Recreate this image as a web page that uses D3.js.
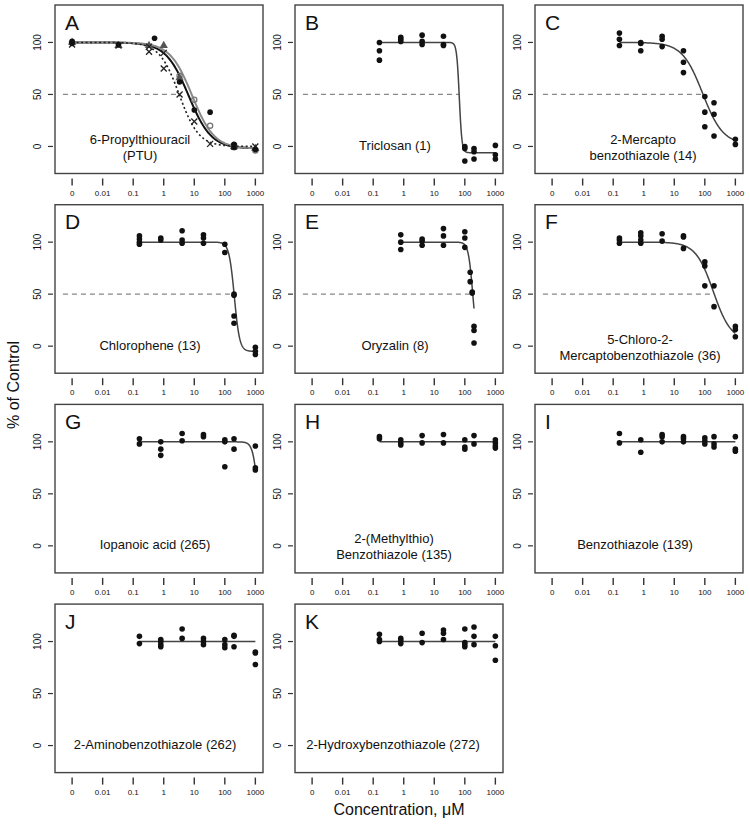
<!DOCTYPE html>
<html><head><meta charset="utf-8">
<script src="https://cdn.jsdelivr.net/npm/d3@7"></script>
<style>
body{margin:0;background:#fff}
svg{display:block}
text{font-family:"Liberation Sans",Arial,Helvetica,sans-serif;fill:#111}
</style>
</head><body>
<svg id="chart" width="750" height="829"></svg>
<script>
// ---------------- DATA ----------------
const xTickValues = [0.001, 0.01, 0.1, 1, 10, 100, 1000];
const xTickLabels = ["0", "0.01", "0.1", "1", "10", "100", "1000"];
const yTickValues = [0, 50, 100];
const panelLetters = ["A","B","C","D","E","F","G","H","I","J","K"];
const compoundNames = [
  ["6-Propylthiouracil", "(PTU)"],
  ["Triclosan (1)"],
  ["2-Mercapto", "benzothiazole (14)"],
  ["Chlorophene (13)"],
  ["Oryzalin (8)"],
  ["5-Chloro-2-", "Mercaptobenzothiazole (36)"],
  ["Iopanoic acid (265)"],
  ["2-(Methylthio)", "Benzothiazole (135)"],
  ["Benzothiazole (139)"],
  ["2-Aminobenzothiazole (262)"],
  ["2-Hydroxybenzothiazole (272)"]
];

// Panel A: PTU, several replicate runs (concentration µM, % of control)
const dataA_circle = [[0.001,101],[0.001,99],[0.033,98],[0.5,104],[3.3,62],[10,35],[33,33],[200,2],[200,-1],[1000,-3]];
const dataA_triangle = [[0.001,100],[0.033,97],[0.33,97],[1,97],[3.3,66],[200,0],[1000,-2]];
const dataA_open = [[0.001,100],[3.3,68],[10,45],[33,20],[200,1],[1000,-4]];
const dataA_cross = [[0.001,98],[0.033,97],[0.33,96],[0.33,91],[1,90],[1,75],[3.3,50],[10,24],[33,2.5],[200,0],[1000,0]];

const dataB = [[0.16,100],[0.16,92],[0.16,83],[0.8,105],[0.8,103],[0.8,101],[4,107],[4,101],[4,98],[20,106],[20,98],[20,97],[100,0],[100,-2],[100,-14],[200,-2],[200,-5],[200,-12],[1000,1],[1000,-8],[1000,-12]];
const dataC = [[0.16,109],[0.16,103],[0.16,97],[0.8,100],[0.8,99],[0.8,92],[4,106],[4,103],[4,96],[20,92],[20,81],[20,71],[100,48],[100,33],[100,19],[200,42],[200,31],[200,10],[1000,7],[1000,2]];
const dataD = [[0.16,106],[0.16,103],[0.16,100],[0.16,98],[0.8,104],[0.8,102],[4,111],[4,102],[4,99],[20,107],[20,104],[20,99],[100,98],[100,90],[200,50],[200,49],[200,29],[200,22],[1000,-1],[1000,-5],[1000,-8]];
const dataE = [[0.8,107],[0.8,100],[0.8,93],[4,103],[4,101],[4,97],[20,113],[20,106],[20,97],[100,110],[100,104],[100,95],[150,71],[150,62],[175,52],[175,51],[200,19],[200,15],[200,3]];
const dataF = [[0.16,104],[0.16,102],[0.16,99],[0.8,109],[0.8,106],[0.8,102],[0.8,99],[4,108],[4,101],[20,106],[20,105],[20,94],[100,81],[100,77],[100,58],[200,58],[200,38],[1000,19],[1000,16],[1000,9]];
const dataG = [[0.16,103],[0.16,98],[0.8,100],[0.8,93],[0.8,87],[4,108],[4,101],[20,107],[20,105],[100,102],[100,100],[100,76],[200,103],[200,93],[1000,96],[1000,75],[1000,73]];
const dataH = [[0.16,105],[0.16,103],[0.8,102],[0.8,99],[0.8,97],[4,106],[4,99],[20,107],[20,99],[100,102],[100,95],[100,93],[200,106],[200,98],[1000,102],[1000,99],[1000,96],[1000,94]];
const dataI = [[0.16,108],[0.16,99],[0.8,102],[0.8,90],[4,107],[4,105],[4,100],[20,105],[20,103],[20,100],[100,104],[100,101],[100,98],[200,105],[200,98],[200,95],[1000,105],[1000,93],[1000,91]];
const dataJ = [[0.16,105],[0.16,98],[0.8,102],[0.8,100],[0.8,97],[0.8,95],[4,112],[4,103],[20,103],[20,100],[20,97],[100,102],[100,97],[100,94],[200,106],[200,105],[200,95],[1000,90],[1000,89],[1000,78]];
const dataK = [[0.16,107],[0.16,102],[0.16,100],[0.8,103],[0.8,101],[0.8,98],[4,108],[4,99],[20,111],[20,108],[20,102],[100,112],[100,99],[100,97],[100,95],[200,114],[200,105],[200,97],[1000,105],[1000,96],[1000,82]];

// Fitted Hill curves: [top, bottom, IC50 (µM), Hill slope, from (µM), to (µM)]
const fitA = [[100,-2,6.5,1.17,0.001,1000],[100,-2,8.5,1.2,0.001,1000],[100,0,3.2,1.35,0.001,1000]];
const fitB = [[100,-6,66,10,0.16,1000]];
const fitC = [[100,2,85,1.3,0.16,1000]];
const fitD = [[100,-5,205,5,0.16,1000]];
const fitE = [[100,0,182,6,0.8,200]];
const fitF = [[100,5,190,1.5,0.16,1000]];
const fitG = [[100,0,1227,5.13,0.16,1000]];
const fitH = [[100,100,1,1,0.16,1000]];
const fitI = [[100,100,1,1,0.16,1000]];
const fitJ = [[100,100,1,1,0.16,1000]];
const fitK = [[100,100,1,1,0.16,1000]];
// which fit defines the 50% reference line (null = none)
const halfLineFit = [2, 0, 0, 0, 0, 0, null, null, null, null, null];

// ---------------- LAYOUT ----------------
const W = 750, H = 829;
const colLeft = c => 55 + 240 * c;
const rowTop = r => 5 + 199.7 * r;
const pw = 208, ph = 168.5;
const labelCenter = [85, 100, 108, 95, 100, 105, 100, 99, 100, 100, 98];
const font = '"Liberation Sans",Arial,Helvetica,sans-serif';

const svg = d3.select("#chart");
svg.append("rect").attr("width", W).attr("height", H).attr("fill", "#fff");

const x = d3.scaleLog().domain([Math.pow(10,-3.56), Math.pow(10,3.25)]).range([0, pw]);
const y = d3.scaleLinear().domain([-26, 136]).range([ph, 0]);

const hill = (p, c) => p[1] + (p[0] - p[1]) / (1 + Math.pow(c / p[2], p[3]));
const curvePts = p => {
  const a = Math.log10(p[4]), b = Math.log10(p[5]);
  return d3.range(0, 301).map(i => { const c = Math.pow(10, a + (b - a) * i / 300); return [c, hill(p, c)]; });
};
const half = p => p[2] * Math.pow((p[0] - p[1]) / (50 - p[1]) - 1, 1 / p[3]);

const allData = [null, dataB, dataC, dataD, dataE, dataF, dataG, dataH, dataI, dataJ, dataK];
const allFits = [fitA, fitB, fitC, fitD, fitE, fitF, fitG, fitH, fitI, fitJ, fitK];
const line = d3.line().x(d => x(d[0])).y(d => y(d[1]));

panelLetters.forEach((letter, i) => {
  const col = i % 3, row = Math.floor(i / 3);
  const g = svg.append("g").attr("transform", `translate(${colLeft(col)},${rowTop(row)})`);

  // 50% reference line
  if (halfLineFit[i] !== null) {
    const p = allFits[i][halfLineFit[i]];
    g.append("line").attr("x1", x(Math.pow(10, -3.3))).attr("x2", x(half(p)))
      .attr("y1", y(50)).attr("y2", y(50))
      .attr("stroke", "#888").attr("stroke-width", 1.2).attr("stroke-dasharray", "5,4");
  }

  // y ticks
  yTickValues.forEach(v => {
    g.append("line").attr("x1", -7).attr("x2", -2).attr("y1", y(v)).attr("y2", y(v))
      .attr("stroke", "#333").attr("stroke-width", 1.2);
    g.append("text").attr("transform", `translate(-14,${y(v)}) rotate(-90)`)
      .attr("text-anchor", "middle").attr("font-size", 10).text(v);
  });
  // x ticks
  xTickValues.forEach((v, k) => {
    g.append("line").attr("x1", x(v)).attr("x2", x(v)).attr("y1", ph + 5).attr("y2", ph + 12)
      .attr("stroke", "#333").attr("stroke-width", 1.4);
    g.append("text").attr("x", x(v)).attr("y", ph + 22).attr("text-anchor", "middle")
      .attr("font-size", 8).text(xTickLabels[k]);
  });

  // curves
  if (i === 0) {
    const styles = [
      {stroke: "#111", w: 2, dash: null},
      {stroke: "#8a8a8a", w: 2, dash: null},
      {stroke: "#222", w: 1.6, dash: "2,2.5"}
    ];
    allFits[0].forEach((p, k) => {
      g.append("path").attr("d", line(curvePts(p))).attr("fill", "none")
        .attr("stroke", styles[k].stroke).attr("stroke-width", styles[k].w)
        .attr("stroke-dasharray", styles[k].dash);
    });
    // markers
    dataA_open.forEach(d => g.append("circle").attr("cx", x(d[0])).attr("cy", y(d[1])).attr("r", 2.6)
      .attr("fill", "none").attr("stroke", "#777").attr("stroke-width", 1.3));
    dataA_triangle.forEach(d => g.append("path").attr("d", d3.symbol(d3.symbolTriangle, 30)())
      .attr("transform", `translate(${x(d[0])},${y(d[1])})`).attr("fill", "#555"));
    dataA_cross.forEach(d => {
      const cx = x(d[0]), cy = y(d[1]), s = 3;
      g.append("path").attr("d", `M${cx-s},${cy-s}L${cx+s},${cy+s}M${cx-s},${cy+s}L${cx+s},${cy-s}`)
        .attr("stroke", "#222").attr("stroke-width", 1.3);
    });
    dataA_circle.forEach(d => g.append("circle").attr("cx", x(d[0])).attr("cy", y(d[1])).attr("r", 2.8).attr("fill", "#111"));
  } else {
    allFits[i].forEach(p => {
      g.append("path").attr("d", line(curvePts(p))).attr("fill", "none")
        .attr("stroke", "#444").attr("stroke-width", 1.5);
    });
    allData[i].forEach(d => g.append("circle").attr("cx", x(d[0])).attr("cy", y(d[1])).attr("r", 2.8).attr("fill", "#111"));
  }

  // frame
  g.append("rect").attr("width", pw).attr("height", ph).attr("fill", "none")
    .attr("stroke", "#444").attr("stroke-width", 1.4);

  // panel letter
  g.append("text").attr("x", 10).attr("y", 24.5).attr("font-size", 21).text(letter);

  // compound name
  const names = compoundNames[i];
  const baseY = names.length === 1 ? [145] : [139, 155];
  names.forEach((n, k) => g.append("text").attr("x", labelCenter[i]).attr("y", baseY[k])
    .attr("text-anchor", "middle").attr("font-size", 13).text(n));
});

// axis titles
svg.append("text").attr("transform", "translate(19,385) rotate(-90)").attr("text-anchor", "middle")
  .attr("font-size", 16).text("% of Control");
svg.append("text").attr("x", 399).attr("y", 815).attr("text-anchor", "middle")
  .attr("font-size", 16).text("Concentration, \u03bcM");
</script>
</body></html>
